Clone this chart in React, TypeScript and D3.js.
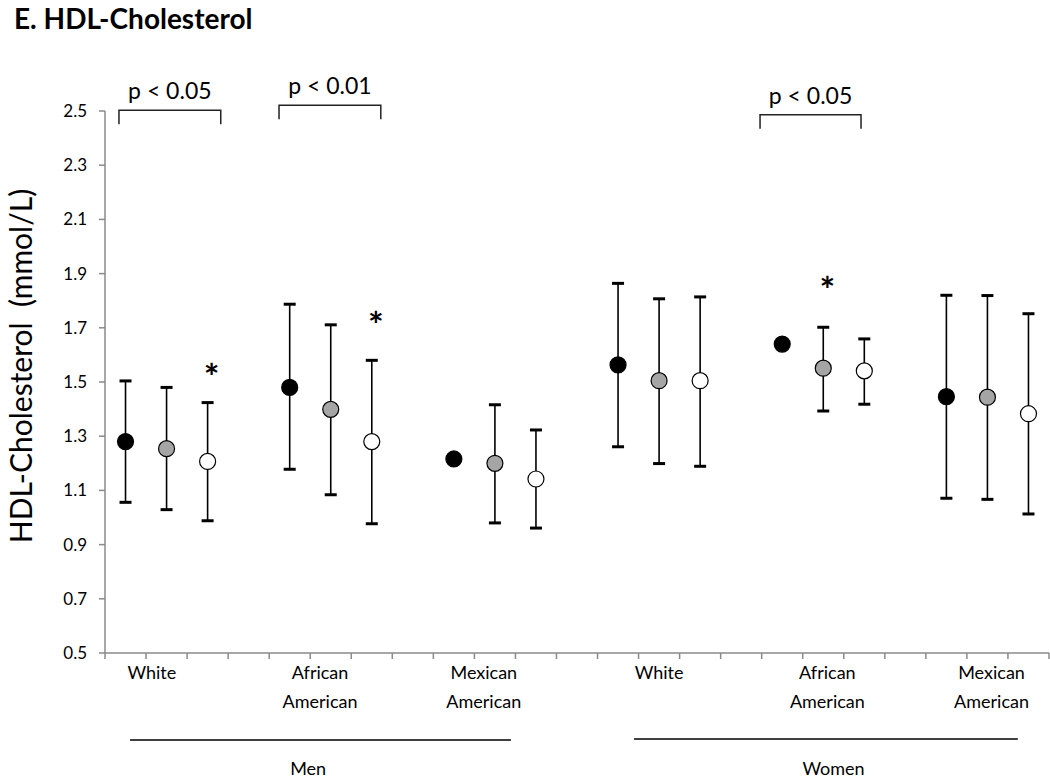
import React from "react";
import * as d3 from "d3";

// ---- Data ----
const sexGroups = ["Men", "Women"];
const ethnicities = ["White", "African American", "Mexican American"];
// six clusters: Men (W, AA, MA), Women (W, AA, MA)
const seriesNames = ["Group 1", "Group 2", "Group 3"];
const seriesFill = ["#000000", "#a5a5a5", "#ffffff"];

const mean1 = [1.28, 1.48, 1.216, 1.563, 1.64, 1.446];
const low1: (number | null)[] = [1.056, 1.178, null, 1.261, null, 1.071];
const high1: (number | null)[] = [1.504, 1.787, null, 1.864, null, 1.82];

const mean2 = [1.254, 1.399, 1.2, 1.505, 1.551, 1.444];
const low2 = [1.029, 1.084, 0.98, 1.199, 1.393, 1.067];
const high2 = [1.48, 1.711, 1.416, 1.807, 1.702, 1.819];

const mean3 = [1.207, 1.28, 1.142, 1.505, 1.541, 1.383];
const low3 = [0.988, 0.977, 0.961, 1.189, 1.418, 1.013];
const high3 = [1.424, 1.58, 1.323, 1.814, 1.659, 1.752];

const yTicks = [0.5, 0.7, 0.9, 1.1, 1.3, 1.5, 1.7, 1.9, 2.1, 2.3, 2.5];
const nSlots = 23; // 3 series per cluster + 1 gap slot

// x tick label positions (category units) for the 6 clusters
const labelPos = [1.14, 5.24, 9.23, 13.5, 17.6, 21.6];

// significance brackets: from/to (category units), top value, label
const bracketFrom = [0.34, 4.24, 15.96];
const bracketTo = [2.82, 6.72, 18.42];
const bracketTop = [2.503, 2.521, 2.486];
const bracketText = ["p < 0.05", "p < 0.01", "p < 0.05"];

// asterisks: cluster, series, value
const starCluster = [0, 1, 4];
const starSeries = [2, 2, 1];
const starValue = [1.544, 1.737, 1.865];

// group underline spans (category units)
const groupFrom = [0.61, 12.89];
const groupTo = [9.89, 22.24];
const groupLabelPos = [4.95, 17.75];

const FONT = "Lato, 'Open Sans', sans-serif";

export default function App() {
  const W = 1050, H = 780;
  const x0 = 105, x1 = 1049, yTop = 111, yBot = 653;

  const xBand = d3.scaleBand<number>().domain(d3.range(nSlots)).range([x0, x1]).padding(0);
  const xu = d3.scaleLinear().domain([0, nSlots]).range([x0, x1]);
  const y = d3.scaleLinear().domain([0.5, 2.5]).range([yBot, yTop]);
  const fmt = d3.format(".1f");

  const means = [mean1, mean2, mean3];
  const lows = [low1, low2, low3];
  const highs = [high1, high2, high3];

  const cx = (c: number, s: number) => (xBand(c * 4 + s) as number) + xBand.bandwidth() / 2;

  const points: { c: number; s: number; m: number; lo: number | null; hi: number | null }[] = [];
  for (let s = 0; s < seriesNames.length; s++) {
    for (let c = 0; c < 6; c++) {
      points.push({ c, s, m: means[s][c], lo: lows[s][c], hi: highs[s][c] });
    }
  }

  const axisColor = "#8a8a8a";
  const boundaries = d3.range(nSlots + 1);

  return (
    <svg width={W} height={H} style={{ position: "absolute", left: 0, top: 0, background: "#fff" }} fontFamily={FONT}>
      <rect width={W} height={H} fill="#fff" />
      {/* Title */}
      <text x={14} y={29} fontSize={28} fontWeight="bold" fill="#000">E. HDL-Cholesterol</text>

      {/* Y axis label */}
      <text transform={`translate(32, 366) rotate(-90)`} textAnchor="middle" fontSize={30} fill="#000">
        HDL-Cholesterol {"\u00a0"}(mmol/L)
      </text>

      {/* Y axis */}
      <line x1={x0} x2={x0} y1={yTop} y2={yBot} stroke={axisColor} strokeWidth={1.5} />
      {yTicks.map((t) => (
        <g key={t}>
          <line x1={x0 - 6} x2={x0} y1={y(t)} y2={y(t)} stroke={axisColor} strokeWidth={1.5} />
          <text x={87} y={y(t)} dy="0.35em" textAnchor="end" fontSize={17} fill="#000">{fmt(t)}</text>
        </g>
      ))}

      {/* X axis */}
      <line x1={x0} x2={x1} y1={yBot} y2={yBot} stroke={axisColor} strokeWidth={1.5} />
      {boundaries.map((b) => (
        <line key={b} x1={xu(b)} x2={xu(b)} y1={yBot} y2={yBot + 6} stroke={axisColor} strokeWidth={1.5} />
      ))}
      {labelPos.map((p, i) => {
        const name = ethnicities[i % 3];
        const words = name.split(" ");
        return (
          <text key={i} x={xu(p)} y={679} textAnchor="middle" fontSize={18} fill="#000">
            {words.map((w, k) => (
              <tspan key={k} x={xu(p)} dy={k === 0 ? 0 : 29}>{w}</tspan>
            ))}
          </text>
        );
      })}

      {/* Group underlines and labels */}
      {sexGroups.map((g, i) => (
        <g key={g}>
          <line x1={xu(groupFrom[i])} x2={xu(groupTo[i])} y1={740 - i} y2={740 - i} stroke="#000" strokeWidth={1.5} />
          <text x={xu(groupLabelPos[i])} y={775} textAnchor="middle" fontSize={18} fill="#000">{g}</text>
        </g>
      ))}

      {/* Brackets */}
      {bracketText.map((t, i) => {
        const xa = xu(bracketFrom[i]);
        const xb = xu(bracketTo[i]);
        const yt = y(bracketTop[i]);
        return (
          <g key={i}>
            <path d={`M${xa},${yt + 14}V${yt}H${xb}V${yt + 14}`} fill="none" stroke="#222" strokeWidth={1.5} />
            <text x={(xa + xb) / 2} y={yt - 11} textAnchor="middle" fontSize={23} fill="#000">{t}</text>
          </g>
        );
      })}

      {/* Error bars */}
      {points.filter((p) => p.lo !== null && p.hi !== null).map((p, i) => {
        const x = cx(p.c, p.s);
        return (
          <g key={"e" + i}>
            <line x1={x} x2={x} y1={y(p.lo as number)} y2={y(p.hi as number)} stroke="#000" strokeWidth={1.6} />
            <line x1={x - 6} x2={x + 6} y1={y(p.hi as number)} y2={y(p.hi as number)} stroke="#000" strokeWidth={3} />
            <line x1={x - 6} x2={x + 6} y1={y(p.lo as number)} y2={y(p.lo as number)} stroke="#000" strokeWidth={3} />
          </g>
        );
      })}

      {/* Points */}
      {points.map((p, i) => (
        <circle key={"p" + i} cx={cx(p.c, p.s)} cy={y(p.m)} r={8} fill={seriesFill[p.s]} stroke="#000" strokeWidth={1.2} />
      ))}

      {/* Asterisks */}
      {starValue.map((v, i) => (
        <text key={"s" + i} x={cx(starCluster[i], starSeries[i]) + 4} y={y(v) + 20} textAnchor="middle" fontSize={37} fontWeight="bold" fill="#000">*</text>
      ))}
    </svg>
  );
}
